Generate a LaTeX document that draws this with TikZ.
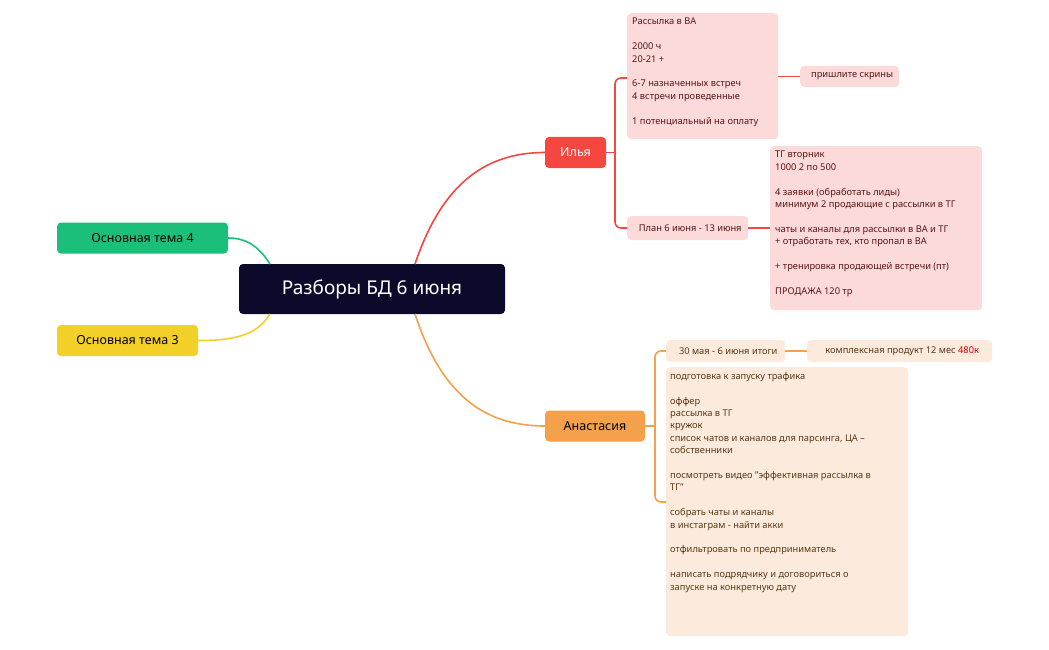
\documentclass[tikz,border=0pt]{standalone}
\usepackage{fontspec}
\setmainfont{Noto Sans}
\definecolor{pink}{HTML}{FDDADA}
\definecolor{peach}{HTML}{FCEBDC}
\definecolor{dred}{HTML}{5A1414}
\definecolor{dbrown}{HTML}{5A3714}
\definecolor{rline}{HTML}{F5473F}
\definecolor{oline}{HTML}{F5A04A}
\definecolor{gline}{HTML}{1CBF7A}
\definecolor{yline}{HTML}{F2D027}
\definecolor{navy}{HTML}{0B0A2A}
\begin{document}
\begin{tikzpicture}[x=1pt,y=-1pt,
  box/.style={rounded corners=4pt,anchor=north west,align=left,inner sep=0pt,font=\fontsize{9.3}{12.4}\selectfont},
  txt/.style={anchor=north west,align=left,inner sep=0pt,font=\fontsize{9.3}{12.4}\selectfont},
  topic/.style={rounded corners=4pt,minimum height=31pt,font=\fontsize{12.5}{14}\selectfont,inner sep=0pt},
  conn/.style={line width=1.6pt},
  bracket/.style={line width=1.6pt,rounded corners=6pt}]
\useasboundingbox (0,0) rectangle (1049,650);
% main
\node[fill=navy,rounded corners=4pt,minimum width=266pt,minimum height=50pt,text=white,font=\fontsize{19}{22}\selectfont] (c) at (372,289) {Разборы БД 6 июня};
\node[topic,fill=rline,text=white,minimum width=61pt] (i) at (575.5,152.5) {Илья};
\node[topic,fill=oline,text=black,minimum width=100pt] (a) at (595,426) {Анастасия};
\node[topic,fill=gline,minimum width=171pt] (t4) at (142.5,238) {Основная тема 4};
\node[topic,fill=yline,minimum width=141pt] (t3) at (127.5,340.5) {Основная тема 3};
% connectors
\draw[conn,rline] (415,264) .. controls (440,190) and (480,152.5) .. (i.west);
\draw[conn,oline] (415,314) .. controls (440,390) and (480,426) .. (a.west);
\draw[conn,gline] (270,264) .. controls (258,245) and (245,238) .. (t4.east);
\draw[conn,yline] (270,314) .. controls (258,333) and (240,340.5) .. (t3.east);
% Ilya branch
\node[box,fill=pink,minimum width=151pt,minimum height=126pt] (p1) at (627,13) {};
\node[txt,text=dred] at (632,18) {Рассылка в ВА\\[12.4pt]2000 ч\\20-21 +\\[12.4pt]6-7 назначенных встреч\\4 встречи проведенные\\[12.4pt]1 потенциальный на оплату};
\node[box,fill=pink,text=dred,minimum width=99pt,minimum height=21pt,anchor=west] (p2) at (800,76.5) {\hspace{5pt}пришлите скрины};
\node[box,fill=pink,text=dred,minimum width=121pt,minimum height=24pt,anchor=west] (p3) at (627,228) {\hspace{5pt}План 6 июня - 13 июня};
\node[box,fill=pink,minimum width=212pt,minimum height=164pt] (p4) at (770,146) {};
\node[txt,text=dred] at (775,151) {ТГ вторник\\1000 2 по 500\\[12.4pt]4 заявки (обработать лиды)\\минимум 2 продающие с рассылки в ТГ\\[12.4pt]чаты и каналы для рассылки в ВА и ТГ\\+ отработать тех, кто пропал в ВА\\[12.4pt]+ тренировка продающей встречи (пт)\\[12.4pt]\textbf{ПРОДАЖА 120 тр}};
\draw[bracket,rline] (i.east) -- (615,152.5);
\draw[bracket,rline] (627,78) -- (615,78) -- (615,228) -- (p3.west);
\draw[conn,rline] (778,76.5) -- (p2.west);
\draw[conn,rline] (p3.east) -- (770,228);
% Anastasia branch
\node[box,fill=peach,text=dbrown,minimum width=119pt,minimum height=22pt,anchor=west] (o1) at (666,351) {\hspace{5pt}30 мая - 6 июня итоги};
\node[box,fill=peach,text=dbrown,minimum width=185pt,minimum height=22pt,anchor=west] (o2) at (807,351) {\hspace{5pt}комплексная продукт 12 мес \textcolor{red!85!black}{480к}};
\node[box,fill=peach,minimum width=242pt,minimum height=269pt] (o3) at (666,367) {};
\node[txt,text=dbrown] at (670,372) {подготовка к запуску трафика\\[12.4pt]оффер\\рассылка в ТГ\\кружок\\список чатов и каналов для парсинга, ЦА –\\собственники\\[12.4pt]посмотреть видео "эффективная рассылка в\\ТГ"\\[12.4pt]собрать чаты и каналы\\в инстаграм - найти акки\\[12.4pt]отфильтровать по предприниматель\\[12.4pt]написать подрядчику и договориться о\\запуске на конкретную дату};
\draw[bracket,oline] (a.east) -- (655,426);
\draw[bracket,oline] (666,351) -- (655,351) -- (655,502) -- (666,502);
\draw[conn,oline] (o1.east) -- (o2.west);
\end{tikzpicture}
\end{document}
